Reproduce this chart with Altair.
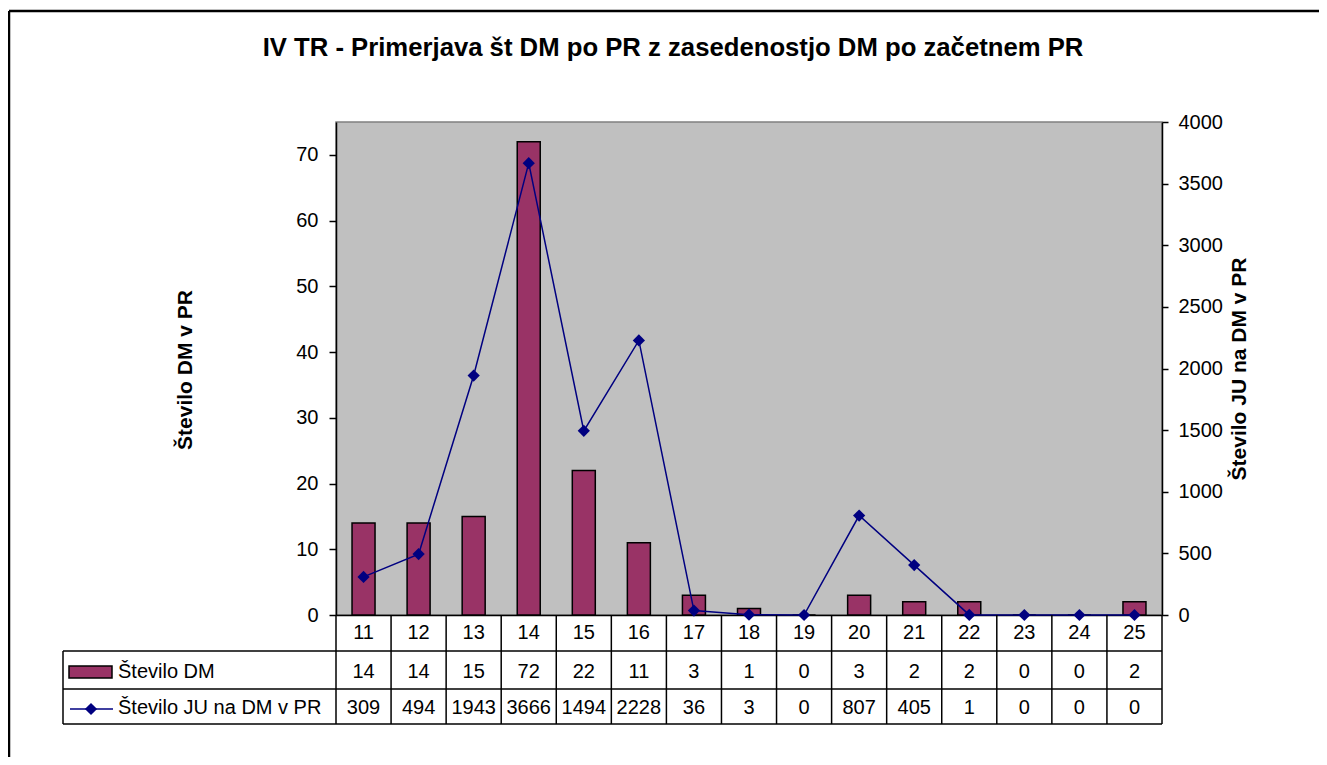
import altair as alt
import pandas as pd

categories = ["11", "12", "13", "14", "15", "16", "17", "18", "19", "20", "21", "22", "23", "24", "25"]
stevilo_dm = [14, 14, 15, 72, 22, 11, 3, 1, 0, 3, 2, 2, 0, 0, 2]
stevilo_ju = [309, 494, 1943, 3666, 1494, 2228, 36, 3, 0, 807, 405, 1, 0, 0, 0]

title_text = "IV TR - Primerjava št DM po PR z zasedenostjo DM po začetnem PR"
left_title = "Število DM v PR"
right_title = "Število JU na DM v PR"
series_dm = "Število DM"
series_ju = "Število JU na DM v PR"

df = pd.DataFrame({"cat": categories, "dm": stevilo_dm, "ju": stevilo_ju})
one = pd.DataFrame({"k": [0]})

FONT = "Liberation Sans"
W, H = 826, 493
BAR = "#993366"
NAVY = "#000080"
FS = 20

x_axis = alt.Axis(labels=False, ticks=False, title=None, domainColor="black", domainWidth=1.5, grid=False)
x_scale = alt.Scale(paddingInner=0, paddingOuter=0)


def xenc(**kw):
    return alt.X("cat:N", sort=categories, scale=x_scale, axis=x_axis, **kw)


bars = alt.Chart(df).mark_bar(size=23, color=BAR, stroke="black", strokeWidth=1.5).encode(
    x=xenc(),
    y=alt.Y("dm:Q", scale=alt.Scale(domain=[0, 75], nice=False),
            axis=alt.Axis(orient="left", values=list(range(0, 80, 10)), title=None, grid=False, format="d",
                          labelFontSize=FS, labelFont=FONT, labelColor="black", tickColor="black",
                          tickSize=7, tickWidth=1.5, labelPadding=11, domainColor="black", domainWidth=1.5)),
)

line = alt.Chart(df).mark_line(color=NAVY, strokeWidth=1.5,
                               point=alt.OverlayMarkDef(shape="diamond", filled=True, size=150, color=NAVY, opacity=1)).encode(
    x=xenc(),
    y=alt.Y("ju:Q", scale=alt.Scale(domain=[0, 4000], nice=False),
            axis=alt.Axis(orient="right", values=list(range(0, 4001, 500)), title=None, grid=False, format="d",
                          labelFontSize=FS, labelFont=FONT, labelColor="black", tickColor="black",
                          tickSize=6, tickWidth=1.5, labelPadding=10, domainColor="black", domainWidth=1.5)),
)

txt = dict(fontSize=FS, font=FONT, color="black", baseline="middle")
cat_row = alt.Chart(df).mark_text(**txt).encode(x=xenc(), y=alt.value(511), text="cat:N")
dm_row = alt.Chart(df).mark_text(**txt).encode(x=xenc(), y=alt.value(549.5), text="dm:Q")
ju_row = alt.Chart(df).mark_text(**txt).encode(x=xenc(), y=alt.value(585.5), text="ju:Q")

vlines = alt.Chart(df).mark_rule(color="black", strokeWidth=1.5).encode(
    x=xenc(bandPosition=0), y=alt.value(H), y2=alt.value(602))
vright = alt.Chart(one).mark_rule(color="black", strokeWidth=1.5).encode(
    x=alt.value(W), y=alt.value(H), y2=alt.value(602))
vleft = alt.Chart(one).mark_rule(color="black", strokeWidth=1.5).encode(
    x=alt.value(-273), y=alt.value(529), y2=alt.value(602))
hlines = [alt.Chart(one).mark_rule(color="black", strokeWidth=1.5).encode(
    x=alt.value(-273), x2=alt.value(W), y=alt.value(yy)) for yy in (529, 567, 602)]

leg_rect = alt.Chart(one).mark_rect(color=BAR, stroke="black", strokeWidth=1.5).encode(
    x=alt.value(-267), x2=alt.value(-224), y=alt.value(544), y2=alt.value(556))
leg_line = alt.Chart(one).mark_rule(color=NAVY, strokeWidth=1.5).encode(
    x=alt.value(-266), x2=alt.value(-223), y=alt.value(587))
leg_pt = alt.Chart(one).mark_point(shape="diamond", filled=True, size=150, color=NAVY, opacity=1).encode(
    x=alt.value(-245), y=alt.value(587))
leg_t1 = alt.Chart(one).mark_text(text=series_dm, align="left", **txt).encode(x=alt.value(-218), y=alt.value(549.5))
leg_t2 = alt.Chart(one).mark_text(text=series_ju, align="left", **txt).encode(x=alt.value(-218), y=alt.value(585.5))

title = alt.Chart(one).mark_text(text=title_text, fontSize=25.7, fontWeight="bold", font=FONT, color="black",
                                 align="center", baseline="middle").encode(x=alt.value(337), y=alt.value(-74))
ltitle = alt.Chart(one).mark_text(text=left_title, fontSize=21, fontWeight="bold", font=FONT, color="black",
                                  align="center", baseline="middle", angle=270).encode(x=alt.value(-150), y=alt.value(248))
rtitle = alt.Chart(one).mark_text(text=right_title, fontSize=21, fontWeight="bold", font=FONT, color="black",
                                  align="center", baseline="middle", angle=270).encode(x=alt.value(904), y=alt.value(247))

btop = alt.Chart(one).mark_rule(color="black", strokeWidth=2.5).encode(
    x=alt.value(-327), x2=alt.value(983), y=alt.value(-111))
bleft = alt.Chart(one).mark_rule(color="black", strokeWidth=2.5).encode(
    x=alt.value(-327), y=alt.value(-111), y2=alt.value(635))

chart = alt.layer(
    bars, line, cat_row, dm_row, ju_row, vlines, vright, vleft, *hlines,
    leg_rect, leg_line, leg_pt, leg_t1, leg_t2, title, ltitle, rtitle, btop, bleft
).resolve_scale(y="independent").properties(
    width=W, height=H,
    autosize=alt.AutoSizeParams(type="none"),
    padding={"left": 328, "top": 114, "right": 157, "bottom": 142},
    background="white",
).configure_view(fill="#C0C0C0", stroke="#808080", strokeWidth=1.5)

chart.save("out.html", embed_options={"renderer": "svg", "actions": False})
